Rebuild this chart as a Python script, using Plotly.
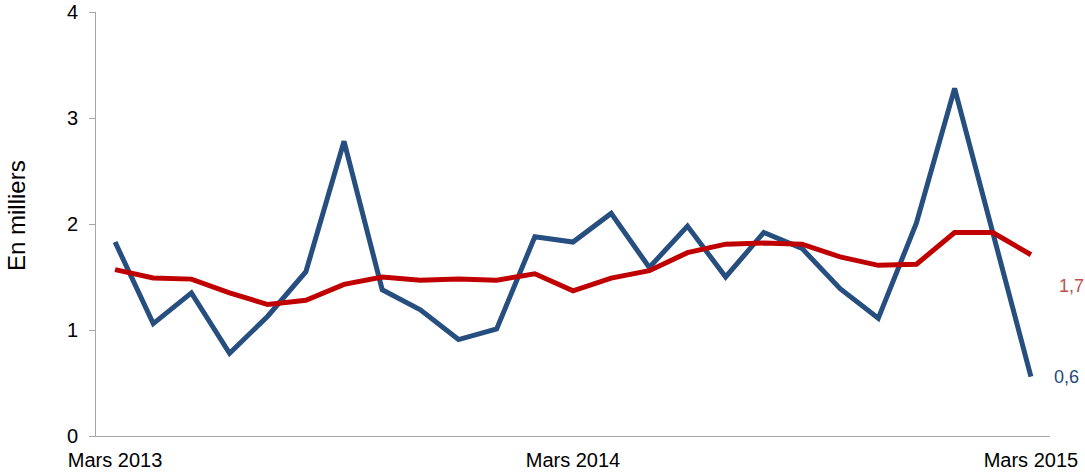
import plotly.graph_objects as go

months = [
    "Mars 2013", "Avr 2013", "Mai 2013", "Juin 2013", "Juil 2013", "Août 2013",
    "Sept 2013", "Oct 2013", "Nov 2013", "Déc 2013", "Janv 2014", "Févr 2014",
    "Mars 2014", "Avr 2014", "Mai 2014", "Juin 2014", "Juil 2014", "Août 2014",
    "Sept 2014", "Oct 2014", "Nov 2014", "Déc 2014", "Janv 2015", "Févr 2015",
    "Mars 2015",
]
tick_labels = ["Mars 2013", "Mars 2014", "Mars 2015"]

serie_mensuelle = [1.83, 1.06, 1.35, 0.78, 1.13, 1.55, 2.78, 1.38, 1.19, 0.91,
                   1.01, 1.88, 1.83, 2.10, 1.59, 1.98, 1.50, 1.92, 1.77, 1.39,
                   1.11, 2.01, 3.28, 1.92, 0.56]
moyenne_mobile = [1.57, 1.49, 1.48, 1.35, 1.24, 1.28, 1.43, 1.50, 1.47, 1.48,
                  1.47, 1.53, 1.37, 1.49, 1.56, 1.73, 1.81, 1.82, 1.81, 1.69,
                  1.61, 1.62, 1.92, 1.92, 1.71]
label_blue = "0,6"
label_red = "1,7"

BLUE = "#264F80"
RED = "#C00000"
FONT = "Liberation Sans, Arial, sans-serif"
AXIS = "#A6A6A6"

W, H = 1085, 474
ml, mr, mt, mb = 96, 33, 12, 36
pw = W - ml - mr
ph = H - mt - mb
off = 2

fig = go.Figure()

# shadows (drawn first, on a subplot shifted a couple of pixels down-right)
for vals in (serie_mensuelle, moyenne_mobile):
    fig.add_trace(go.Scatter(x=months, y=vals, mode="lines", xaxis="x", yaxis="y",
                             line=dict(color="rgba(60,60,60,0.10)", width=9),
                             hoverinfo="skip", showlegend=False))
    fig.add_trace(go.Scatter(x=months, y=vals, mode="lines", xaxis="x", yaxis="y",
                             line=dict(color="rgba(60,60,60,0.16)", width=6),
                             hoverinfo="skip", showlegend=False))

fig.add_trace(go.Scatter(x=months, y=serie_mensuelle, mode="lines", xaxis="x2", yaxis="y2",
                         line=dict(color=BLUE, width=5), showlegend=False))
fig.add_trace(go.Scatter(x=months, y=moyenne_mobile, mode="lines", xaxis="x2", yaxis="y2",
                         line=dict(color=RED, width=5), showlegend=False))

fig.update_layout(
    width=W, height=H,
    margin=dict(l=ml, r=mr, t=mt, b=mb, autoexpand=False),
    paper_bgcolor="white", plot_bgcolor="white",
    font=dict(family=FONT, size=20, color="#000000"),
    showlegend=False,
    xaxis=dict(domain=[off / pw, 1], anchor="y", type="category",
               categoryorder="array", categoryarray=months,
               range=[-0.5, len(months) - 0.5], visible=False, automargin=False),
    yaxis=dict(domain=[0, 1 - off / ph], anchor="x", range=[0, 4], visible=False,
               automargin=False),
    xaxis2=dict(domain=[0, 1 - off / pw], anchor="y2", type="category",
                categoryorder="array", categoryarray=months,
                range=[-0.5, len(months) - 0.5],
                tickmode="array", tickvals=tick_labels, ticktext=tick_labels,
                ticks="", showline=True, linecolor=AXIS, linewidth=1,
                showgrid=False, zeroline=False, automargin=False,
                ticklabelstandoff=6,
                tickfont=dict(family=FONT, size=20, color="#000000")),
    yaxis2=dict(domain=[off / ph, 1], anchor="x2", range=[0, 4], dtick=1,
                ticks="outside", ticklen=6, tickcolor=AXIS, tickwidth=1,
                showline=True, linecolor=AXIS, linewidth=1,
                showgrid=False, zeroline=False, automargin=False,
                ticklabelstandoff=7,
                tickfont=dict(family=FONT, size=20, color="#000000")),
    annotations=[
        dict(text="En milliers", textangle=-90, xref="paper", yref="paper",
             x=0, y=0.5, xanchor="center", yanchor="middle", xshift=-80, yshift=9,
             showarrow=False, font=dict(family=FONT, size=24, color="#000000")),
        dict(text=label_red, xref="x2", yref="y2", x=months[-1], y=moyenne_mobile[-1],
             xanchor="left", yanchor="middle", xshift=26, yshift=-31,
             showarrow=False, font=dict(family=FONT, size=18, color="#C0504D")),
        dict(text=label_blue, xref="x2", yref="y2", x=months[-1], y=serie_mensuelle[-1],
             xanchor="left", yanchor="middle", xshift=21, yshift=0,
             showarrow=False, font=dict(family=FONT, size=18, color="#1F497D")),
    ],
)

fig.write_html("out.html",
               config={"displayModeBar": False},
               post_script="document.body.style.margin='0';document.body.style.overflow='hidden';")
